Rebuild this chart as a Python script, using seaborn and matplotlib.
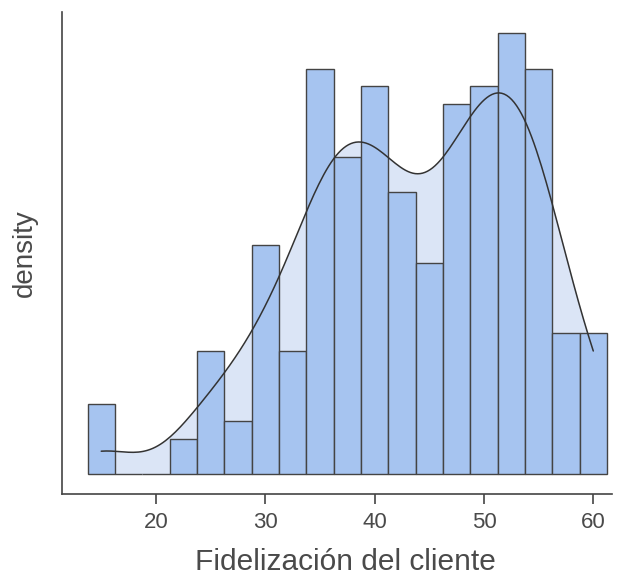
import numpy as np
import pandas as pd
import matplotlib.pyplot as plt
import seaborn as sns

# histogram: bin centres and counts per bin (width 2.5)
bin_centers = [15, 17.5, 20, 22.5, 25, 27.5, 30, 32.5, 35, 37.5,
               40, 42.5, 45, 47.5, 50, 52.5, 55, 57.5, 60]
counts = [4, 0, 0, 2, 7, 3, 13, 7, 23, 18,
          22, 16, 12, 21, 22, 25, 23, 8, 8]
x_ticks = [20, 30, 40, 50, 60]

df = pd.DataFrame({"fidelizacion": np.repeat(bin_centers, counts)})

sns.set_theme(style="ticks")
plt.rcParams["font.family"] = ["Liberation Sans", "DejaVu Sans"]

fig = plt.figure(figsize=(6.25, 5.76), dpi=100)
ax = fig.add_axes([0.099, 0.142, 0.88, 0.837])

bar_color = "#a6c4f0"
fill_color = "#dbe5f6"
edge = "#444444"
text_color = "#4a4a4a"

# density fill underneath the bars
sns.kdeplot(data=df, x="fidelizacion", cut=0, bw_adjust=0.95, fill=True,
            color=fill_color, alpha=1, linewidth=0, ax=ax)

sns.histplot(data=df, x="fidelizacion", stat="density", binwidth=2.5,
             binrange=(13.75, 61.25), color=bar_color, alpha=1,
             edgecolor=edge, linewidth=1.0, ax=ax)

# density line on top
sns.kdeplot(data=df, x="fidelizacion", cut=0, bw_adjust=0.95,
            color="#333333", linewidth=1.1, ax=ax)

total = sum(counts) * 2.5
ax.set_xlim(11.4, 61.7)
ax.set_ylim(-1.13 / total, 26.2 / total)
ax.set_xticks(x_ticks)
ax.set_yticks([])
ax.tick_params(axis="x", length=7, width=1.2, color="#444444",
               labelsize=16, labelcolor=text_color, pad=6)
ax.set_xlabel("Fidelización del cliente", fontsize=21.5, color=text_color)
ax.set_ylabel("density", fontsize=20, color=text_color, labelpad=17)
ax.xaxis.set_label_coords(0.515, -0.112)
sns.despine(ax=ax)
for s in ["left", "bottom"]:
    ax.spines[s].set_color("#444444")
    ax.spines[s].set_linewidth(1.2)

fig.savefig("out.png", dpi=100)
